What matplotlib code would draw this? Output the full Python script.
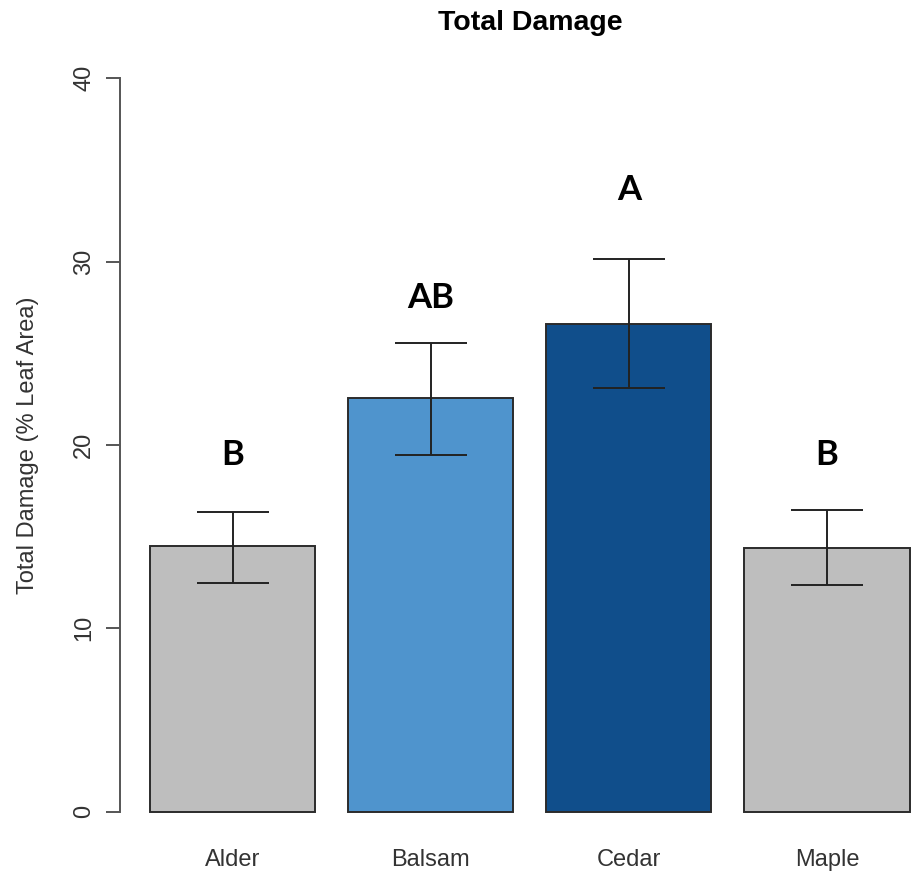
import matplotlib
matplotlib.use("Agg")
import matplotlib.pyplot as plt
import numpy as np

species = ["Alder", "Balsam", "Cedar", "Maple"]
damage = [14.5, 22.56, 26.6, 14.4]
err_lo = [12.48, 19.46, 23.1, 12.37]
err_hi = [16.35, 25.56, 30.13, 16.46]
letters = ["B", "AB", "A", "B"]
letter_y = [18.9, 27.5, 33.35, 18.9]
colors = ["#BEBEBE", "#4F94CD", "#104E8B", "#BEBEBE"]

plt.rcParams['font.family'] = ['Liberation Sans', 'DejaVu Sans']

fig = plt.figure(figsize=(9.15, 8.77), dpi=100)
ax = fig.add_axes([119.6 / 915, 36 / 877, (940 - 119.6) / 915, (828 - 36) / 877])

# R style barplot positions: width 1, space 0.2
x = 0.7 + 1.2 * np.arange(len(species))
ax.bar(x, damage, width=1.0, color=colors, edgecolor="#2b2b2b", linewidth=1.4, zorder=2)

yerr = [np.array(damage) - np.array(err_lo), np.array(err_hi) - np.array(damage)]
ax.errorbar(x, damage, yerr=yerr, fmt="none", ecolor="#222222", elinewidth=1.4,
            capsize=25.9, capthick=1.4, zorder=3)

for xi, lab, yy in zip(x, letters, letter_y):
    ax.text(xi, yy, lab, ha="center", va="baseline", fontsize=25,
            fontweight="bold", family=["Lato", "DejaVu Sans"])

ax.set_xlim(0.016, 4.984)
ax.set_ylim(-1.6, 41.6)

for s in ["top", "right", "bottom"]:
    ax.spines[s].set_visible(False)
ax.spines["left"].set_bounds(0, 40)
ax.spines["left"].set_color("#555555")
ax.spines["left"].set_linewidth(1.4)

ax.set_yticks([0, 10, 20, 30, 40])
ax.set_yticklabels(["0", "10", "20", "30", "40"], rotation=90, va="center")
ax.tick_params(axis="y", length=10, width=1.4, color="#555555", pad=7.5, labelsize=17,
               labelcolor="#333333")
ax.set_xticks(x)
ax.set_xticklabels(species)
ax.tick_params(axis="x", length=0, pad=6, labelsize=17, labelcolor="#333333")

ax.set_ylabel("Total Damage (% Leaf Area)", fontsize=17, color="#333333", labelpad=25)
fig.text(530 / 915, 1 - 23 / 877, "Total Damage", ha="center", va="center",
         fontsize=20.5, fontweight="bold")

fig.savefig("out.png", dpi=100)
